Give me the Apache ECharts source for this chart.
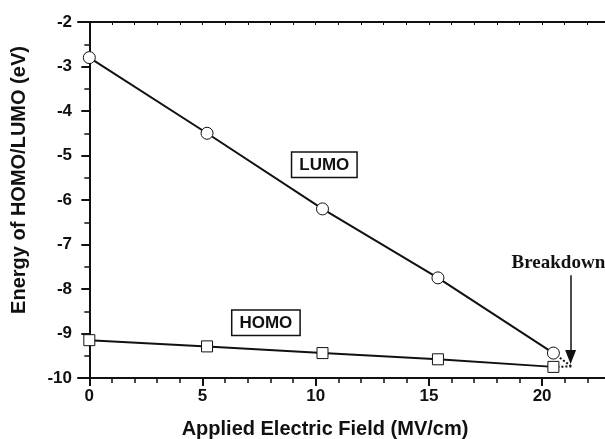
<!DOCTYPE html>
<html>
<head>
<meta charset="utf-8">
<script src="https://cdn.jsdelivr.net/npm/echarts@6/dist/echarts.min.js"></script>
<style>
  html, body { margin: 0; padding: 0; background: #fff; }
  #chart { width: 605px; height: 439px; }
</style>
</head>
<body>
<div id="chart"></div>
<script>
// field points (MV/cm)
const fieldValues = [0, 5.2, 10.3, 15.4, 20.5];
// LUMO / HOMO energies (eV)
const lumoValues = [-2.8, -4.5, -6.2, -7.75, -9.44];
const homoValues = [-9.15, -9.29, -9.44, -9.58, -9.75];
// where the two levels meet (dotted part)
const breakdownPoint = [21.3, -9.74];
// arrow from label down to breakdown
const arrowField = 21.26;
const arrowFrom = -7.69;
const arrowTo = -9.53;
// tick labels of x axis
const xTickLabels = [0, 5, 10, 15, 20];
const xMinorTicks = [];
for (let i = 0; i <= 22; i++) xMinorTicks.push(i);

// text boxes: [x, y, text]
const annotations = [
  [10.38, -5.21, 'LUMO'],
  [7.8, -8.76, 'HOMO']
];
const breakdownLabel = [20.72, -7.42, 'Breakdown'];

const ink = '#111';
const sansBold = { fontFamily: 'Liberation Sans, Arial, sans-serif', fontWeight: 'bold', color: ink };

const chart = echarts.init(document.getElementById('chart'));

function pairs(xs, ys) {
  return xs.map((x, i) => [x, ys[i]]);
}

chart.setOption({
  animation: false,
  backgroundColor: '#fff',
  grid: { left: 78, top: 22, right: -5, bottom: 61, containLabel: false, outerBoundsMode: 'none' },
  xAxis: [{
    type: 'value',
    position: 'bottom',
    min: -0.5,
    max: 23,
    name: 'Applied Electric Field (MV/cm)',
    nameLocation: 'middle',
    nameGap: 41,
    nameTextStyle: Object.assign({ fontSize: 20, padding: [0, 38, 0, 0] }, sansBold),
    axisLine: { lineStyle: { color: ink, width: 2 } },
    axisTick: { customValues: xTickLabels, length: 8, lineStyle: { color: ink, width: 2 } },
    axisLabel: Object.assign({ customValues: xTickLabels, fontSize: 17, margin: 10 }, sansBold),
    splitLine: { show: false }
  }, {
    type: 'value',
    position: 'bottom',
    min: -0.5,
    max: 23,
    axisLine: { show: false },
    axisTick: { customValues: xMinorTicks, length: 5, lineStyle: { color: ink, width: 1.5 } },
    axisLabel: { show: false },
    splitLine: { show: false }
  }, {
    type: 'value',
    position: 'top',
    min: -0.5,
    max: 23,
    axisLine: { lineStyle: { color: ink, width: 2 } },
    axisTick: { inside: true, customValues: xMinorTicks, length: 3, lineStyle: { color: ink, width: 1 } },
    axisLabel: { show: false },
    splitLine: { show: false }
  }],
  yAxis: {
    type: 'value',
    min: -10,
    max: -2,
    interval: 1,
    name: 'Energy of HOMO/LUMO (eV)',
    nameLocation: 'middle',
    nameGap: 49,
    nameTextStyle: Object.assign({ fontSize: 20, padding: [0, 0, 0, 40] }, sansBold),
    axisLine: { lineStyle: { color: ink, width: 2 } },
    axisTick: { length: 8, lineStyle: { color: ink, width: 2 } },
    minorTick: { show: true, splitNumber: 2, length: 5, lineStyle: { color: ink, width: 1.5 } },
    axisLabel: Object.assign({ fontSize: 17, margin: 6 }, sansBold),
    splitLine: { show: false }
  },
  series: [{
    name: 'LUMO',
    type: 'line',
    data: pairs(fieldValues, lumoValues),
    symbol: 'circle',
    symbolSize: 12,
    lineStyle: { color: ink, width: 2 },
    itemStyle: { color: '#fff', borderColor: ink, borderWidth: 1 },
    z: 3
  }, {
    name: 'HOMO',
    type: 'line',
    data: pairs(fieldValues, homoValues),
    symbol: 'rect',
    symbolSize: 11,
    lineStyle: { color: ink, width: 2 },
    itemStyle: { color: '#fff', borderColor: ink, borderWidth: 1 },
    z: 3
  }, {
    type: 'line',
    data: [[fieldValues[4], lumoValues[4]], breakdownPoint],
    symbol: 'none',
    lineStyle: { color: ink, width: 2, type: 'dotted' },
    z: 2
  }, {
    type: 'line',
    data: [[fieldValues[4], homoValues[4]], breakdownPoint],
    symbol: 'none',
    lineStyle: { color: ink, width: 2, type: 'dotted' },
    z: 2,
    markLine: {
      silent: true,
      symbol: ['none', 'triangle'],
      symbolSize: [11, 14],
      label: { show: false },
      lineStyle: { color: ink, width: 1.5, type: 'solid' },
      data: [[{ coord: [arrowField, arrowFrom] }, { coord: [arrowField, arrowTo] }]]
    }
  }, {
    type: 'scatter',
    symbolSize: 1,
    silent: true,
    itemStyle: { color: 'rgba(0,0,0,0)', opacity: 1 },
    data: annotations.map(a => ({
      value: [a[0], a[1]],
      label: {
        show: true,
        position: 'inside',
        formatter: a[2],
        fontSize: 17,
        fontFamily: 'Liberation Sans, Arial, sans-serif',
        fontWeight: 'bold',
        color: ink,
        opacity: 1,
        backgroundColor: '#fff',
        borderColor: ink,
        borderWidth: 1.5,
        padding: [4, 7, 3, 7]
      }
    })).concat([{
      value: [breakdownLabel[0], breakdownLabel[1]],
      label: {
        show: true,
        position: 'inside',
        formatter: breakdownLabel[2],
        fontSize: 19,
        fontFamily: 'Liberation Serif, Times New Roman, serif',
        fontWeight: 'bold',
        color: ink,
        opacity: 1
      }
    }]),
    z: 5
  }]
});
</script>
</body>
</html>
